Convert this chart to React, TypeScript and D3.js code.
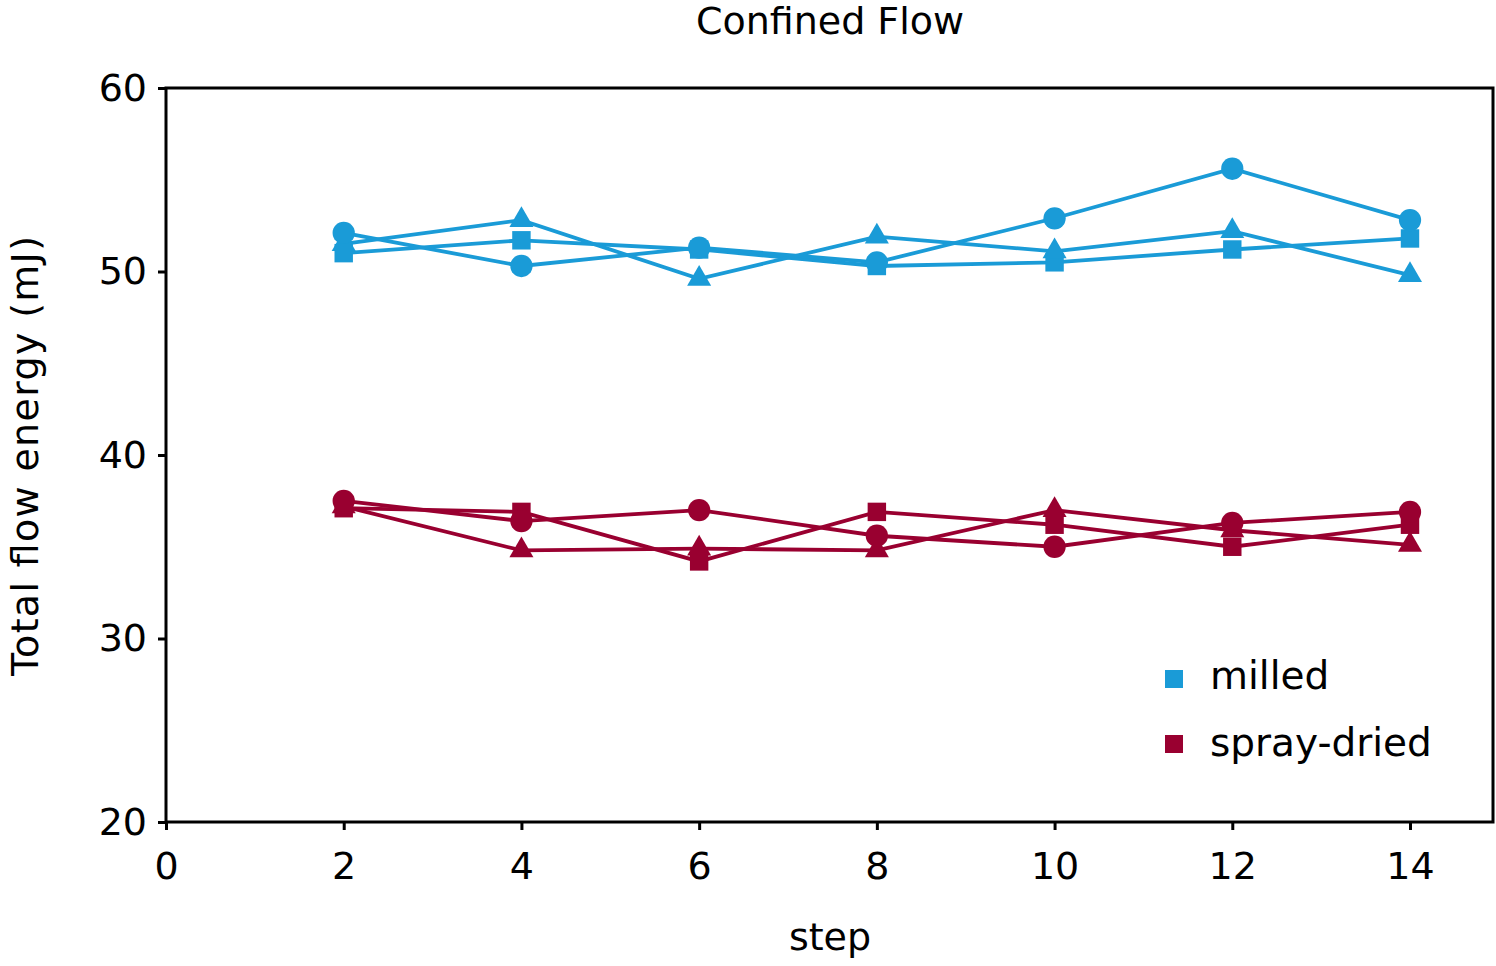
import React, { useEffect, useRef } from "react";
import * as d3 from "d3";

// steps on the x axis
const steps = [2, 4, 6, 8, 10, 12, 14];

// milled runs (blue)
const milledCircle = [52.1, 50.3, 51.3, 50.5, 52.9, 55.6, 52.8];
const milledSquare = [51.0, 51.7, 51.2, 50.3, 50.5, 51.2, 51.8];
const milledTriangle = [51.5, 52.8, 49.6, 51.9, 51.1, 52.2, 49.8];

// spray-dried runs (red)
const sprayCircle = [37.5, 36.4, 37.0, 35.6, 35.0, 36.3, 36.9];
const spraySquare = [37.1, 36.9, 34.2, 36.9, 36.2, 35.0, 36.2];
const sprayTriangle = [37.2, 34.8, 34.9, 34.8, 37.0, 35.9, 35.1];

const xTicks = [0, 2, 4, 6, 8, 10, 12, 14];
const yTicks = [20, 30, 40, 50, 60];

const legendItems = ["milled", "spray-dried"];

const BLUE = "#1a9bd7";
const RED = "#990030";
const FONT = "'DejaVu Sans', sans-serif";

const width = 1496;
const height = 966;
const margin = { top: 88, right: 3, bottom: 144, left: 166 };

type Shape = "circle" | "square" | "triangle";

const series: { values: number[]; color: string; shape: Shape }[] = [
  { values: milledSquare, color: BLUE, shape: "square" },
  { values: milledTriangle, color: BLUE, shape: "triangle" },
  { values: milledCircle, color: BLUE, shape: "circle" },
  { values: spraySquare, color: RED, shape: "square" },
  { values: sprayTriangle, color: RED, shape: "triangle" },
  { values: sprayCircle, color: RED, shape: "circle" },
];

export default function App() {
  const svgRef = useRef<SVGSVGElement | null>(null);

  useEffect(() => {
    const svg = d3.select(svgRef.current);
    svg.selectAll("*").remove();

    // the frame runs a bit past 15 steps, so pin 0 and 14 instead
    const x = d3.scaleLinear().domain([0, 14]).range([margin.left, 1410]);
    const y = d3
      .scaleLinear()
      .domain([20, 60])
      .range([height - margin.bottom, margin.top]);

    // title
    svg
      .append("text")
      .attr("x", 830)
      .attr("y", 34)
      .attr("text-anchor", "middle")
      .style("font-family", FONT)
      .style("font-size", "38px")
      .text("Confined Flow");

    // axes
    const xAxis = svg
      .append("g")
      .attr("transform", `translate(0,${height - margin.bottom})`)
      .call(
        d3
          .axisBottom(x)
          .tickValues(xTicks)
          .tickSize(8)
          .tickSizeOuter(0)
          .tickPadding(22)
      );
    const yAxis = svg
      .append("g")
      .attr("transform", `translate(${margin.left},0)`)
      .call(
        d3
          .axisLeft(y)
          .tickValues(yTicks)
          .tickSize(8)
          .tickSizeOuter(0)
          .tickPadding(11)
      );
    [xAxis, yAxis].forEach((g) => {
      g.select(".domain").remove();
      g.selectAll("line").attr("stroke", "#000").attr("stroke-width", 3);
      g.selectAll("text")
        .attr("fill", "#000")
        .style("font-family", FONT)
        .style("font-size", "38px");
    });

    // frame
    svg
      .append("rect")
      .attr("x", margin.left)
      .attr("y", margin.top)
      .attr("width", width - margin.right - margin.left)
      .attr("height", height - margin.bottom - margin.top)
      .attr("fill", "none")
      .attr("stroke", "#000")
      .attr("stroke-width", 3);

    // axis labels
    svg
      .append("text")
      .attr("x", 830)
      .attr("y", 950)
      .attr("text-anchor", "middle")
      .style("font-family", FONT)
      .style("font-size", "38px")
      .text("step");
    svg
      .append("text")
      .attr("transform", "translate(38,456) rotate(-90)")
      .attr("text-anchor", "middle")
      .style("font-family", FONT)
      .style("font-size", "38px")
      .attr("textLength", 440)
      .attr("lengthAdjust", "spacing")
      .text("Total flow energy (mJ)");

    // lines
    const line = d3
      .line<number>()
      .x((_, i) => x(steps[i]))
      .y((d) => y(d));

    series.forEach((s) => {
      svg
        .append("path")
        .datum(s.values)
        .attr("d", line)
        .attr("fill", "none")
        .attr("stroke", s.color)
        .attr("stroke-width", 3.8);
    });

    // markers
    const symbolFor = (shape: Shape) =>
      shape === "circle"
        ? d3.symbol(d3.symbolCircle, 390)
        : shape === "square"
        ? d3.symbol(d3.symbolSquare, 340)
        : d3.symbol(d3.symbolTriangle, 250);

    series.forEach((s) => {
      svg
        .append("g")
        .selectAll("path")
        .data(s.values)
        .join("path")
        .attr("transform", (d, i) => `translate(${x(steps[i])},${y(d)})`)
        .attr("d", symbolFor(s.shape)())
        .attr("fill", s.color);
    });

    // legend
    const legend = svg.append("g");
    legendItems.forEach((name, i) => {
      const color = i === 0 ? BLUE : RED;
      legend
        .append("rect")
        .attr("x", 1165)
        .attr("y", 670 + i * 65)
        .attr("width", 18)
        .attr("height", 18)
        .attr("fill", color);
      legend
        .append("text")
        .attr("x", 1210)
        .attr("y", 689 + i * 67)
        .style("font-family", FONT)
        .style("font-size", "39px")
        .text(name);
    });
  }, []);

  return (
    <svg
      ref={svgRef}
      width={width}
      height={height}
      style={{ position: "absolute", left: 0, top: 0, background: "#fff" }}
    />
  );
}
